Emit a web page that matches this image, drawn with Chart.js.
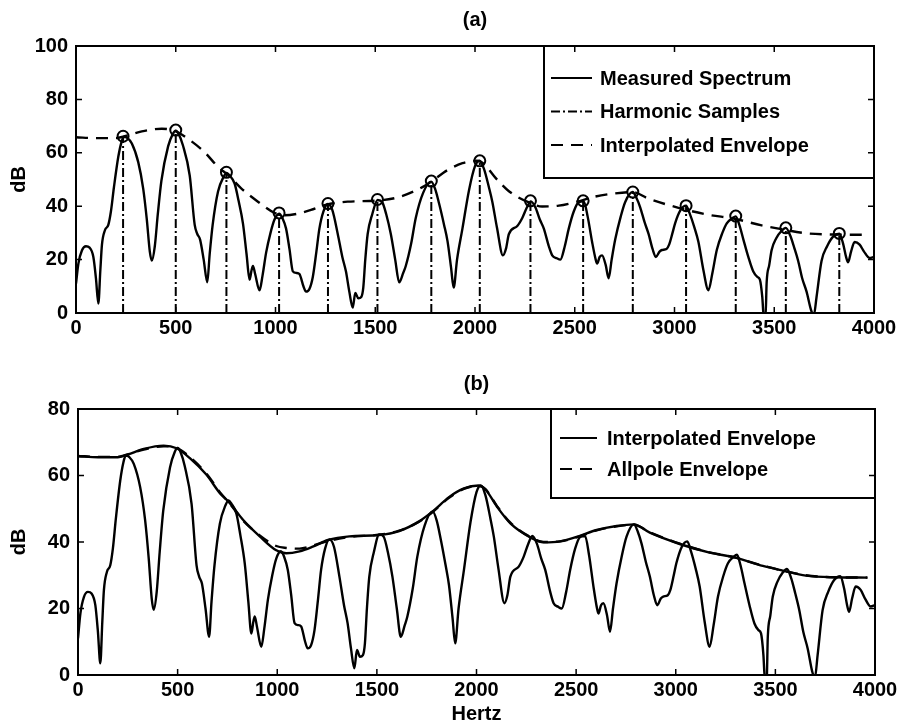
<!DOCTYPE html>
<html>
<head>
<meta charset="utf-8">
<title>Spectrum envelopes</title>
<script src="https://cdn.jsdelivr.net/npm/chart.js@4.4.0/dist/chart.umd.min.js"></script>
<style>
  body { margin: 0; background: #fff; }
  #wrap { position: relative; width: 901px; height: 724px; }
  canvas { position: absolute; left: 0; }
  #chartA { top: 0; }
  #chartB { top: 362px; }
</style>
</head>
<body>
<div id="wrap">
  <canvas id="chartA" width="901" height="362"></canvas>
  <canvas id="chartB" width="901" height="362"></canvas>
</div>
<script>
const spectrumHz = [0, 12, 30, 50, 68, 87, 100, 112, 122, 130, 145, 162, 175, 190, 212, 228, 240, 258, 280, 312,
    337, 355, 370, 380, 395, 410, 428, 462, 485, 500, 515, 535, 570, 595, 608, 622, 640, 658, 670, 685,
    712, 740, 755, 770, 795, 815, 837, 855, 870, 880, 887, 898, 920, 935, 953, 975, 995, 1018, 1035, 1053,
    1070, 1087, 1105, 1120, 1140, 1153, 1170, 1187, 1205, 1220, 1240, 1262, 1285, 1312, 1335, 1353, 1370, 1387, 1400, 1415,
    1430, 1440, 1450, 1462, 1485, 1512, 1535, 1555, 1578, 1600, 1620, 1640, 1653, 1680, 1703, 1740, 1780, 1800, 1820, 1845,
    1862, 1880, 1893, 1910, 1937, 1970, 2000, 2022, 2045, 2070, 2087, 2110, 2140, 2155, 2170, 2212, 2237, 2260, 2280, 2303,
    2325, 2345, 2370, 2387, 2410, 2428, 2450, 2470, 2495, 2520, 2545, 2565, 2587, 2605, 2612, 2625, 2637, 2655, 2670, 2685,
    2703, 2730, 2753, 2790, 2810, 2828, 2850, 2870, 2890, 2907, 2925, 2937, 2960, 2973, 2990, 3003, 3030, 3058, 3075, 3100,
    3120, 3145, 3170, 3190, 3212, 3240, 3262, 3290, 3307, 3325, 3345, 3370, 3395, 3415, 3428, 3440, 3448, 3456, 3462, 3475,
    3487, 3510, 3537, 3558, 3580, 3600, 3620, 3640, 3662, 3685, 3698, 3712, 3737, 3765, 3795, 3826, 3845, 3860, 3870, 3885,
    3903, 3928, 3950, 3978, 4000];
const spectrumDb = [11, 18.5, 23.5, 25, 24.5, 21, 13, 3.5, 16, 25.5, 31, 33, 38, 47, 58.5, 64, 66, 65.5, 63.5, 56.5,
    46.5, 35, 23, 19.6, 25, 37, 49.5, 62.5, 67, 68.3, 67, 63, 51.5, 33, 29.6, 27.5, 20, 11.5, 22, 33,
    45.5, 51, 52.5, 51.5, 48.5, 42, 33.5, 22, 12.5, 16, 17.6, 14.6, 8.5, 14, 22.6, 30, 35, 37.2, 35.5, 31.6,
    24, 15.6, 15, 14.6, 10, 8, 9, 13.5, 23, 31.6, 38, 40.8, 38.5, 29.6, 21, 15.6, 8, 2, 7.5, 5.5,
    6, 9.5, 20, 29.6, 37, 42.3, 41.5, 37, 29.6, 20, 11.5, 15, 17.6, 26, 35.6, 45, 49.2, 46.5, 41, 33,
    27, 17, 9.5, 20, 31.6, 46, 55, 57, 54, 47, 41.6, 32, 21.6, 24, 29.6, 32.6, 35.6, 39.5, 41.8, 39.5,
    35, 31.6, 25, 21.6, 20.5, 20, 25, 31.6, 38, 41.5, 41.8, 36, 26.6, 20, 18.5, 21, 21.6, 18, 13, 20,
    27.6, 36, 41.6, 45.3, 43, 39.6, 34, 29.6, 24, 21, 23, 23.6, 24, 25.6, 30, 33.6, 38.5, 40.2, 37.5, 32,
    26.6, 16, 8.5, 15, 23.6, 30, 33.6, 35.5, 36.2, 33, 27.6, 21, 15.5, 13.5, 12.5, 6, -2, -2, 11.5, 18,
    23.6, 28, 30.8, 31.9, 29, 24.5, 19.5, 13, 8, 1, -1, 6, 19.5, 25, 28.6, 29.7, 26, 21, 19, 23,
    26.6, 25.6, 23, 20.6, 21];

// Echantillons harmoniques
const harmonicHz = [236, 500, 754, 1018, 1263, 1511, 1781, 2024, 2278, 2542, 2791, 3058, 3307, 3558, 3826];
const harmonicDb = [66.2, 68.5, 52.7, 37.5, 41, 42.5, 49.4, 57, 42, 42, 45.3, 40.2, 36.3, 31.9, 29.8];

// Enveloppe interpolee
const envelopeHz = [0, 100, 200, 240, 330, 430, 495, 560, 645, 712, 762, 828, 912, 995, 1045, 1112, 1178, 1255, 1362, 1512,
    1612, 1712, 1780, 1862, 1937, 2010, 2045, 2103, 2170, 2270, 2337, 2420, 2512, 2603, 2703, 2790, 2870, 3020, 3170, 3300,
    3437, 3537, 3653, 3795, 3962];
const envelopeDb = [65.8, 65.5, 65.5, 66.1, 68, 69, 68.2, 65.3, 60.2, 54.7, 51.7, 46.7, 41.7, 37.5, 36.6, 37.2, 38.6, 40.6, 41.7, 42.1,
    43.3, 46.2, 49.2, 53.5, 56.1, 57, 55.8, 50.6, 45.6, 41.4, 39.9, 40.2, 41.7, 43.6, 44.8, 45.3, 42.8, 39.4, 36.8, 35.3,
    32.8, 31.4, 29.9, 29.4, 29.3];

// Enveloppe tout-pole
const allpoleHz = [0, 100, 200, 240, 330, 430, 495, 560, 645, 712, 762, 828, 912, 995, 1045, 1112, 1178, 1255, 1362, 1512,
    1612, 1712, 1780, 1862, 1937, 2010, 2045, 2103, 2170, 2270, 2337, 2420, 2512, 2603, 2703, 2790, 2870, 3020, 3170, 3300,
    3437, 3537, 3653, 3795, 3962];
const allpoleDb = [65.9, 65.6, 65.6, 66.2, 67.8, 68.8, 68.3, 65.6, 60.5, 55, 51.5, 46.5, 42, 38.8, 38.2, 38, 38.9, 40.3, 41.5, 42.2,
    43.4, 46.1, 49, 53.3, 56, 56.9, 55.9, 50.8, 45.8, 41.5, 40, 40.2, 41.6, 43.5, 44.7, 45.2, 42.9, 39.5, 36.9, 35.3,
    32.9, 31.4, 30, 29.4, 29.3];

// Graduations
const freqTicks = [0, 500, 1000, 1500, 2000, 2500, 3000, 3500, 4000];
const dbTicksA = [0, 20, 40, 60, 80, 100];
const dbTicksB = [0, 20, 40, 60, 80];

const legendA = ['Measured Spectrum', 'Harmonic Samples', 'Interpolated Envelope'];
const legendB = ['Interpolated Envelope', 'Allpole Envelope'];

const DASHED = [12, 8];
const DASHDOT = [9, 3, 2, 3];

Chart.defaults.font.family = '"Liberation Sans", Arial, Helvetica, sans-serif';
Chart.defaults.font.size = 20;
Chart.defaults.font.weight = 'bold';
Chart.defaults.color = '#000';

function pts(xs, ys) {
    return xs.map((x, i) => ({ x: x, y: ys[i] }));
}

function stemPoints(xs, ys) {
    const out = [];
    xs.forEach((x, i) => {
        out.push({ x: x, y: 0 }, { x: x, y: ys[i] }, { x: x, y: null });
    });
    return out;
}

// Cadre, graduations vers l'interieur et legende encadree
const boxPlugin = {
    id: 'boxLegend',
    afterDatasetsDraw(chart, args, opts) {
        const { ctx, chartArea: a, scales } = chart;
        ctx.save();

        // legende
        const left = a.right - opts.width;
        const top = a.top;
        ctx.fillStyle = '#fff';
        ctx.fillRect(left, top, opts.width, opts.height);
        ctx.strokeStyle = '#000';
        ctx.lineWidth = 2;
        ctx.strokeRect(left, top, opts.width, opts.height);
        ctx.font = 'bold 20px "Liberation Sans", Arial, sans-serif';
        ctx.fillStyle = '#000';
        ctx.textBaseline = 'middle';
        opts.items.forEach((item, i) => {
            const y = top + opts.firstRow + i * opts.rowGap;
            ctx.setLineDash(item.dash);
            ctx.lineWidth = 2;
            ctx.beginPath();
            ctx.moveTo(left + opts.sampleX, y);
            ctx.lineTo(left + opts.sampleX + opts.sampleLen, y);
            ctx.stroke();
            ctx.setLineDash([]);
            ctx.fillText(item.text, left + opts.textX, y + 1);
        });

        // cadre
        ctx.lineWidth = 2;
        ctx.strokeRect(a.left, a.top, a.right - a.left, a.bottom - a.top);

        // graduations
        ctx.lineWidth = 1.5;
        ctx.beginPath();
        scales.x.ticks.forEach(t => {
            const px = scales.x.getPixelForValue(t.value);
            ctx.moveTo(px, a.bottom);
            ctx.lineTo(px, a.bottom - 6);
            ctx.moveTo(px, a.top);
            ctx.lineTo(px, a.top + 6);
        });
        scales.y.ticks.forEach(t => {
            const py = scales.y.getPixelForValue(t.value);
            ctx.moveTo(a.left, py);
            ctx.lineTo(a.left + 6, py);
            ctx.moveTo(a.right, py);
            ctx.lineTo(a.right - 6, py);
        });
        ctx.stroke();
        ctx.restore();
    }
};

function scalesFor(yTicks, yMax, yWidth, xTitle) {
    return {
        x: {
            type: 'linear',
            min: 0,
            max: 4000,
            afterBuildTicks: s => { s.ticks = freqTicks.map(v => ({ value: v })); },
            afterFit: s => { s.height = 49; },
            grid: { display: false, drawTicks: false },
            border: { display: false },
            ticks: { padding: 3, maxRotation: 0, autoSkip: false, callback: v => String(v) },
            title: {
                display: !!xTitle,
                text: xTitle || '',
                font: { size: 20, lineHeight: 1 },
                padding: { top: 0, bottom: 0 }
            }
        },
        y: {
            min: 0,
            max: yMax,
            afterBuildTicks: s => { s.ticks = yTicks.map(v => ({ value: v })); },
            afterFit: s => { s.width = yWidth; },
            grid: { display: false, drawTicks: false },
            border: { display: false },
            ticks: { padding: 8, callback: v => String(v) },
            title: { display: true, text: 'dB', padding: { top: 7, bottom: 0 } }
        }
    };
}

function baseLine(data, dash, extra) {
    return Object.assign({
        data: data,
        borderColor: '#000',
        borderWidth: 2.4,
        borderDash: dash,
        pointRadius: 0,
        fill: false,
        cubicInterpolationMode: 'monotone'
    }, extra || {});
}

// (a)
new Chart(document.getElementById('chartA'), {
    type: 'line',
    data: {
        datasets: [
            baseLine(pts(spectrumHz, spectrumDb), []),
            baseLine(stemPoints(harmonicHz, harmonicDb), DASHDOT, { cubicInterpolationMode: 'default', tension: 0, spanGaps: false, borderWidth: 2 }),
            baseLine(pts(envelopeHz, envelopeDb), DASHED),
            {
                data: pts(harmonicHz, harmonicDb),
                showLine: false,
                pointRadius: 5.5,
                pointBorderWidth: 2,
                pointBorderColor: '#000',
                pointBackgroundColor: 'rgba(255,255,255,0)'
            }
        ]
    },
    options: {
        responsive: false,
        animation: false,
        layout: { padding: { left: 0, right: 27, top: 0, bottom: 0 } },
        scales: scalesFor(dbTicksA, 100, 76, null),
        plugins: {
            legend: { display: false },
            tooltip: { enabled: false },
            title: {
                display: true,
                text: '(a)',
                fullSize: false,
                font: { size: 20 },
                padding: { top: 8, bottom: 14 }
            },
            boxLegend: {
                width: 330, height: 132, firstRow: 32, rowGap: 33.5,
                sampleX: 7, sampleLen: 41, textX: 56,
                items: [
                    { text: legendA[0], dash: [] },
                    { text: legendA[1], dash: DASHDOT },
                    { text: legendA[2], dash: DASHED }
                ]
            }
        }
    },
    plugins: [boxPlugin]
});

// (b)
new Chart(document.getElementById('chartB'), {
    type: 'line',
    data: {
        datasets: [
            baseLine(pts(spectrumHz, spectrumDb), []),
            baseLine(pts(envelopeHz, envelopeDb), []),
            baseLine(pts(allpoleHz, allpoleDb), DASHED)
        ]
    },
    options: {
        responsive: false,
        animation: false,
        layout: { padding: { left: 0, right: 26, top: 0, bottom: 0 } },
        scales: scalesFor(dbTicksB, 80, 78, 'Hertz'),
        plugins: {
            legend: { display: false },
            tooltip: { enabled: false },
            title: {
                display: true,
                text: '(b)',
                fullSize: false,
                font: { size: 20 },
                padding: { top: 10, bottom: 13 }
            },
            boxLegend: {
                width: 324, height: 89, firstRow: 29, rowGap: 31,
                sampleX: 9, sampleLen: 37, textX: 56,
                items: [
                    { text: legendB[0], dash: [] },
                    { text: legendB[1], dash: DASHED }
                ]
            }
        }
    },
    plugins: [boxPlugin]
});
</script>
</body>
</html>
